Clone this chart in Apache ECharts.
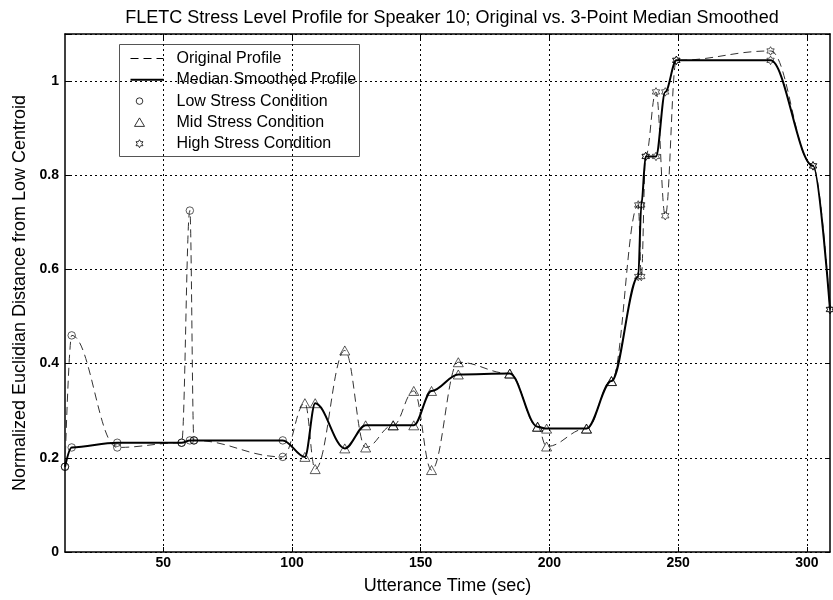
<!DOCTYPE html>
<html><head><meta charset="utf-8">
<script src="https://cdn.jsdelivr.net/npm/echarts@6/dist/echarts.min.js"></script>
<style>html,body{margin:0;padding:0;background:#fff}#c{width:833px;height:600px}</style>
</head><body><div id="c"></div>
<script>
// ---- data ----
const times = [11.8, 14.4, 32.1, 57.1, 60.3, 61.9, 96.4, 105.0, 109.0, 120.5, 128.6, 139.3, 147.3, 154.2, 164.6, 184.6, 195.4, 198.9, 214.4, 224.1, 234.5, 235.7, 237.4, 241.4, 245.0, 249.3, 285.9, 302.4, 309.0];
const originalProfile = [0.181, 0.46, 0.222, 0.232, 0.725, 0.237, 0.202, 0.316, 0.176, 0.428, 0.222, 0.269, 0.342, 0.174, 0.403, 0.379, 0.266, 0.224, 0.262, 0.363, 0.737, 0.585, 0.84, 0.977, 0.714, 1.044, 1.064, 0.82, 0.515];
const smoothedProfile = [0.181, 0.222, 0.232, 0.232, 0.237, 0.237, 0.237, 0.202, 0.316, 0.22, 0.269, 0.269, 0.269, 0.342, 0.377, 0.379, 0.266, 0.262, 0.262, 0.363, 0.585, 0.737, 0.84, 0.84, 0.977, 1.044, 1.044, 0.82, 0.515];
const conditions = ['L','L','L','L','L','L','L','M','M','M','M','M','M','M','M','M','M','M','M','M','H','H','H','H','H','H','H','H','H'];
const xTickValues = [50, 100, 150, 200, 250, 300];
const legendLabels = ['Original Profile', 'Median Smoothed Profile', 'Low Stress Condition', 'Mid Stress Condition', 'High Stress Condition'];
const titleText = 'FLETC Stress Level Profile for Speaker 10; Original vs. 3-Point Median Smoothed';
const xName = 'Utterance Time (sec)';
const yName = 'Normalized Euclidian Distance from Low Centroid';

// ---- styling helpers ----
function hexagramPoints(cx, cy, R) {
  const pts = [];
  for (let k = 0; k < 12; k++) {
    const a = (-90 + 30 * k) * Math.PI / 180;
    const r = k % 2 === 0 ? R : R * 0.577;
    pts.push([cx + r * Math.cos(a), cy + r * Math.sin(a)]);
  }
  return pts;
}
const HEX = 'path://M' + hexagramPoints(10, 10, 10).map(p => p[0].toFixed(2) + ',' + p[1].toFixed(2)).join('L') + 'Z';
const symbolFor = { L: 'circle', M: 'triangle', H: HEX };
const sizeFor = { L: 7.5, M: [10, 9], H: 8.5 };

function markerData(code) {
  const out = [];
  times.forEach((t, i) => {
    if (conditions[i] !== code) return;
    out.push([t, originalProfile[i]]);
    out.push([t, smoothedProfile[i]]);
  });
  return out;
}

const FONT = "'Liberation Sans', Arial, Helvetica, sans-serif";
const TICKFONT = "'Liberation Sans Narrow', 'Liberation Sans', Arial, sans-serif";
const xmin = times[0], xmax = times[times.length - 1];
const ymax = 1.1;

const gridLine = { show: true, lineStyle: { color: '#000', type: [2, 3], width: 1 } };

const chart = echarts.init(document.getElementById('c'), null, { renderer: 'canvas' });

const markerSeries = ['L', 'M', 'H'].map(code => ({
  type: 'scatter',
  xAxisIndex: 0, yAxisIndex: 0,
  data: markerData(code),
  symbol: symbolFor[code],
  symbolSize: sizeFor[code],
  symbolKeepAspect: true,
  itemStyle: { color: 'rgba(0,0,0,0)', borderColor: '#000', borderWidth: 0.8 },
  emphasis: { disabled: true },
  z: 5,
  animation: false
}));

// legend built with graphic elements
const LX = 119, LY = 44, LW = 240, LH = 112, ROW = 21.3;
const legendChildren = [
  { type: 'rect', shape: { x: 0, y: 0, width: LW, height: LH }, style: { fill: '#fff', stroke: '#555', lineWidth: 1 } }
];
legendLabels.forEach((lab, i) => {
  const cy = 14 + i * ROW;
  legendChildren.push({ type: 'text', x: 57, y: cy, style: { text: lab, font: '16px ' + FONT, fill: '#000', verticalAlign: 'middle', align: 'left' } });
});
legendChildren.push({ type: 'line', shape: { x1: 11, y1: 14, x2: 44, y2: 14 }, style: { stroke: '#000', lineWidth: 1, lineDash: [8, 5] } });
legendChildren.push({ type: 'line', shape: { x1: 11, y1: 14 + ROW, x2: 44, y2: 14 + ROW }, style: { stroke: '#000', lineWidth: 2 } });
legendChildren.push({ type: 'circle', shape: { cx: 20, cy: 14 + 2 * ROW, r: 3.3 }, style: { fill: 'none', stroke: '#000', lineWidth: 0.8 } });
legendChildren.push({ type: 'polygon', shape: { points: [[20, 14 + 3 * ROW - 4.5], [25, 14 + 3 * ROW + 4], [15, 14 + 3 * ROW + 4]] }, style: { fill: 'none', stroke: '#000', lineWidth: 0.8 } });
legendChildren.push({ type: 'polygon', shape: { points: hexagramPoints(20, 14 + 4 * ROW, 4) }, style: { fill: 'none', stroke: '#000', lineWidth: 0.8 } });

const option = {
  animation: false,
  backgroundColor: '#fff',
  title: {
    text: titleText, left: 447, top: 4, textAlign: 'center',
    textStyle: { fontFamily: FONT, fontSize: 18, fontWeight: 'normal', color: '#000' }
  },
  grid: { left: 65, right: 3, top: 34, bottom: 47, containLabel: false },
  xAxis: [
    {
      type: 'value', position: 'bottom', min: xmin, max: xmax,
      name: xName, nameLocation: 'middle', nameGap: 25,
      nameTextStyle: { fontFamily: FONT, fontSize: 18, color: '#000' },
      axisLine: { show: true, onZero: false, lineStyle: { color: '#000', width: 1.5 } },
      axisTick: { show: true, inside: true, length: 5, customValues: xTickValues, lineStyle: { color: '#000' } },
      axisLabel: { customValues: xTickValues, margin: 4, fontFamily: TICKFONT, fontWeight: 'bold', fontSize: 14, color: '#000' },
      splitLine: gridLine
    },
    {
      type: 'value', position: 'top', min: xmin, max: xmax,
      axisLine: { show: true, onZero: false, lineStyle: { color: '#000', width: 1.5 } },
      axisTick: { show: true, inside: true, length: 5, customValues: xTickValues, lineStyle: { color: '#000' } },
      axisLabel: { show: false },
      splitLine: { show: false }
    }
  ],
  yAxis: [
    {
      type: 'value', position: 'left', min: 0, max: ymax, interval: 0.2,
      name: yName, nameLocation: 'middle', nameGap: 33,
      nameTextStyle: { fontFamily: FONT, fontSize: 18, color: '#000' },
      axisLine: { show: true, onZero: false, lineStyle: { color: '#000', width: 1.5 } },
      axisTick: { show: true, inside: true, length: 5, lineStyle: { color: '#000' } },
      axisLabel: { margin: 6, fontFamily: TICKFONT, fontWeight: 'bold', fontSize: 14, color: '#000',
        formatter: v => (v > 1.05 ? '' : String(v)) },
      splitLine: gridLine
    },
    {
      type: 'value', position: 'right', min: 0, max: ymax, interval: 0.2,
      axisLine: { show: true, onZero: false, lineStyle: { color: '#000', width: 1.5 } },
      axisTick: { show: true, inside: true, length: 5, lineStyle: { color: '#000' } },
      axisLabel: { show: false },
      splitLine: { show: false }
    }
  ],
  series: [
    {
      name: legendLabels[0], type: 'line', xAxisIndex: 0, yAxisIndex: 0,
      data: times.map((t, i) => [t, originalProfile[i]]),
      smooth: 0.4, smoothMonotone: 'x', showSymbol: false, symbol: 'none',
      lineStyle: { color: '#333', width: 1, type: [8, 5] },
      emphasis: { disabled: true }, z: 3
    },
    {
      name: legendLabels[1], type: 'line', xAxisIndex: 0, yAxisIndex: 0,
      data: times.map((t, i) => [t, smoothedProfile[i]]),
      smooth: 0.35, smoothMonotone: 'x', showSymbol: false, symbol: 'none',
      lineStyle: { color: '#000', width: 2 },
      emphasis: { disabled: true }, z: 4
    },
    ...markerSeries
  ],
  graphic: [{ type: 'group', left: LX, top: LY, z: 100, children: legendChildren }]
};
chart.setOption(option);
</script>
</body></html>
